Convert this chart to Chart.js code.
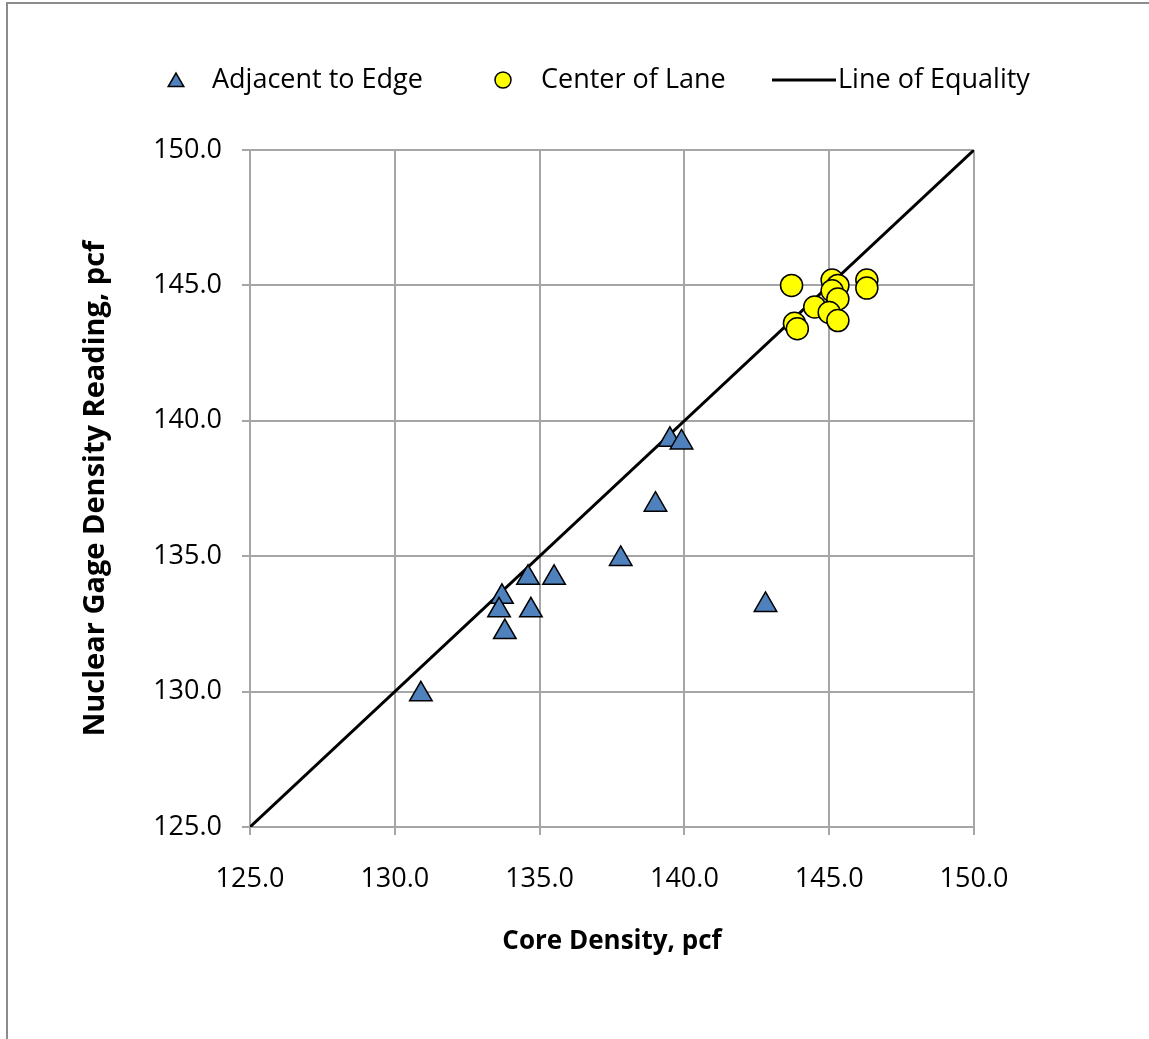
<!DOCTYPE html>
<html>
<head>
<meta charset="utf-8">
<script src="https://cdn.jsdelivr.net/npm/chart.js@4/dist/chart.umd.min.js"></script>
<style>
  html, body { margin: 0; padding: 0; background: #fff; }
  #wrap { width: 1149px; height: 1039px; }
</style>
</head>
<body>
<div id="wrap"><canvas id="c" width="1149" height="1039"></canvas></div>
<script>
// Core density (x) vs nuclear gage reading (y), pcf
const edgeCore  = [130.9, 133.7, 133.6, 133.8, 134.6, 135.5, 134.7, 137.8, 139.0, 139.5, 139.9, 142.8];
const edgeGage  = [129.9, 133.5, 133.0, 132.2, 134.2, 134.2, 133.0, 134.9, 136.9, 139.3, 139.2, 133.2];
const laneCore  = [143.7, 145.1, 145.3, 146.3, 146.3, 145.1, 145.3, 144.5, 145.0, 145.3, 143.8, 143.9];
const laneGage  = [145.0, 145.2, 145.0, 145.2, 144.9, 144.8, 144.5, 144.2, 144.0, 143.7, 143.6, 143.4];
const equality  = [125.0, 150.0];
const axisTicks = [125.0, 130.0, 135.0, 140.0, 145.0, 150.0];

const seriesNames = ['Adjacent to Edge', 'Center of Lane', 'Line of Equality'];
const FONT = '"Open Sans", Lato, "Liberation Sans", sans-serif';

const pts = (xs, ys) => xs.map((x, i) => ({ x: x, y: ys[i] }));

// Outer frame and legend row
const framePlugin = {
  id: 'frame',
  beforeDraw(chart) {
    const ctx = chart.ctx;
    ctx.save();
    ctx.fillStyle = '#fff';
    ctx.fillRect(0, 0, chart.width, chart.height);
    ctx.strokeStyle = '#8c8c8c';
    ctx.lineWidth = 2;
    ctx.strokeRect(7, 3, chart.width + 20, chart.height + 20);
    ctx.restore();
  },
  afterDraw(chart) {
    const ctx = chart.ctx;
    const y = 80;
    ctx.save();
    ctx.font = '27px ' + FONT;
    ctx.textBaseline = 'middle';
    ctx.textAlign = 'left';
    // triangle key
    ctx.fillStyle = '#4F81BD';
    ctx.strokeStyle = '#000';
    ctx.lineWidth = 1.5;
    Chart.helpers.drawPoint(ctx, { pointStyle: 'triangle', radius: 9, borderWidth: 1.5 }, 176, y + 2);
    ctx.fillStyle = '#000';
    ctx.fillText(seriesNames[0], 212, y);
    // circle key
    ctx.fillStyle = '#FFFF00';
    ctx.strokeStyle = '#000';
    Chart.helpers.drawPoint(ctx, { pointStyle: 'circle', radius: 8, borderWidth: 1.5 }, 503, y);
    ctx.fillStyle = '#000';
    ctx.fillText(seriesNames[1], 541, y);
    // line key
    ctx.strokeStyle = '#000';
    ctx.lineWidth = 3;
    ctx.beginPath();
    ctx.moveTo(772, y);
    ctx.lineTo(836, y);
    ctx.stroke();
    ctx.fillText(seriesNames[2], 838, y);
    ctx.restore();
  }
};

new Chart(document.getElementById('c'), {
  type: 'scatter',
  data: {
    datasets: [
      {
        label: seriesNames[0],
        data: pts(edgeCore, edgeGage),
        pointStyle: 'triangle',
        pointRadius: 13,
        pointHoverRadius: 13,
        backgroundColor: '#4F81BD',
        borderColor: '#000',
        borderWidth: 1.5,
        order: 2
      },
      {
        label: seriesNames[1],
        data: pts(laneCore, laneGage),
        pointStyle: 'circle',
        pointRadius: 11,
        pointHoverRadius: 11,
        backgroundColor: '#FFFF00',
        borderColor: '#000',
        borderWidth: 1.5,
        order: 1
      },
      {
        label: seriesNames[2],
        type: 'line',
        data: pts(equality, equality),
        showLine: true,
        borderColor: '#000',
        borderWidth: 3,
        pointRadius: 0,
        fill: false,
        order: 3
      }
    ]
  },
  options: {
    responsive: false,
    animation: false,
    devicePixelRatio: 1,
    layout: { padding: { left: 78, right: 175, top: 150, bottom: 82 } },
    plugins: {
      legend: { display: false },
      tooltip: { enabled: false }
    },
    scales: {
      x: {
        type: 'linear',
        min: 125, max: 150,
        afterBuildTicks(scale) { scale.ticks = axisTicks.map(v => ({ value: v })); },
        afterFit(scale) { scale.height = 130; },
        grid: { color: '#a6a6a6', lineWidth: 2, tickLength: 8, drawTicks: true },
        border: { color: '#a6a6a6', width: 2 },
        ticks: {
          padding: 28,
          color: '#000',
          font: { family: FONT, size: 27 },
          callback: v => Number(v).toFixed(1)
        },
        title: {
          display: true,
          text: 'Core Density, pcf',
          color: '#000',
          font: { family: FONT, size: 26, weight: 'bold' },
          padding: { top: 0, bottom: 0 }
        }
      },
      y: {
        type: 'linear',
        min: 125, max: 150,
        afterBuildTicks(scale) { scale.ticks = axisTicks.map(v => ({ value: v })); },
        afterFit(scale) { scale.width = 172; },
        grid: { color: '#a6a6a6', lineWidth: 2, tickLength: 8, drawTicks: true },
        border: { color: '#a6a6a6', width: 2 },
        ticks: {
          padding: 20,
          color: '#000',
          font: { family: FONT, size: 27 },
          callback: v => Number(v).toFixed(1)
        },
        title: {
          display: true,
          text: 'Nuclear Gage Density Reading, pcf',
          color: '#000',
          font: { family: FONT, size: 29, weight: 'bold' },
          padding: { top: 0, bottom: 0 }
        }
      }
    }
  },
  plugins: [framePlugin]
});
</script>
</body>
</html>
